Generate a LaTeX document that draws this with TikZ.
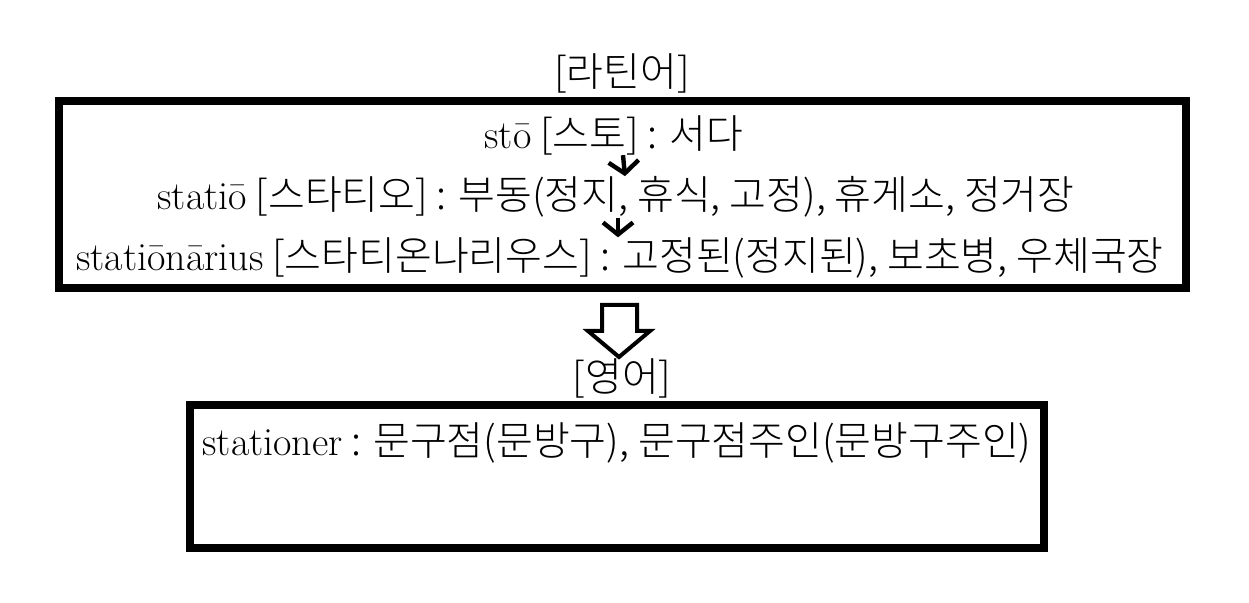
\documentclass[tikz,border=0pt]{standalone}
\usepackage{fontspec}
\newfontfamily\krfont{Noto Sans CJK KR Light}
\usetikzlibrary{arrows.meta,positioning}
\newcommand\lat[1]{\textrm{#1}}

\begin{document}
\begin{tikzpicture}[x=0.5pt, y=-0.5pt,
  txt/.style={font=\krfont\fontsize{20}{24}\selectfont, inner sep=0pt},
  box/.style={draw, line width=4pt, inner sep=0pt},
  tick/.style={-{Straight Barb[length=6pt,width=15pt]}, line width=2.2pt},
  hollow/.style={draw, line width=2pt, fill=white, line join=miter}
]
\useasboundingbox (0,0) rectangle (1249,603);
\node[box, minimum width=563.5pt, minimum height=93.5pt] (latin) at (622.5,194.5) {};
\node[box, minimum width=427pt, minimum height=71.5pt] (eng) at (617,476.5) {};
\node[txt] (lhead) at (622,73) {[라틴어]};
\node[txt] (l1) at (614,135) {\lat{stō} [스토] : 서다};
\node[txt] (l2) at (616,197) {\lat{statiō} [스타티오] : 부동(정지, 휴식, 고정), 휴게소, 정거장};
\node[txt] (l3) at (620,258) {\lat{statiōnārius} [스타티온나리우스] : 고정된(정지된), 보초병, 우체국장};
\node[txt] (ehead) at (622,378) {[영어]};
\node[txt] (e1) at (617,443) {\lat{stationer} : 문구점(문방구), 문구점주인(문방구주인)};
\draw[tick] ([xshift=4.5pt]l1.south) -- ([xshift=4.5pt]l2.north);
\draw[tick] ([xshift=1pt]l2.south) -- ([xshift=-1pt]l3.north);
% hollow arrow between the boxes
\draw[hollow] (602,305) -- (637,305) -- (637,331) -- (650,331) -- (619,357)
  -- (588,331) -- (602,331) -- cycle;
\end{tikzpicture}
\end{document}
